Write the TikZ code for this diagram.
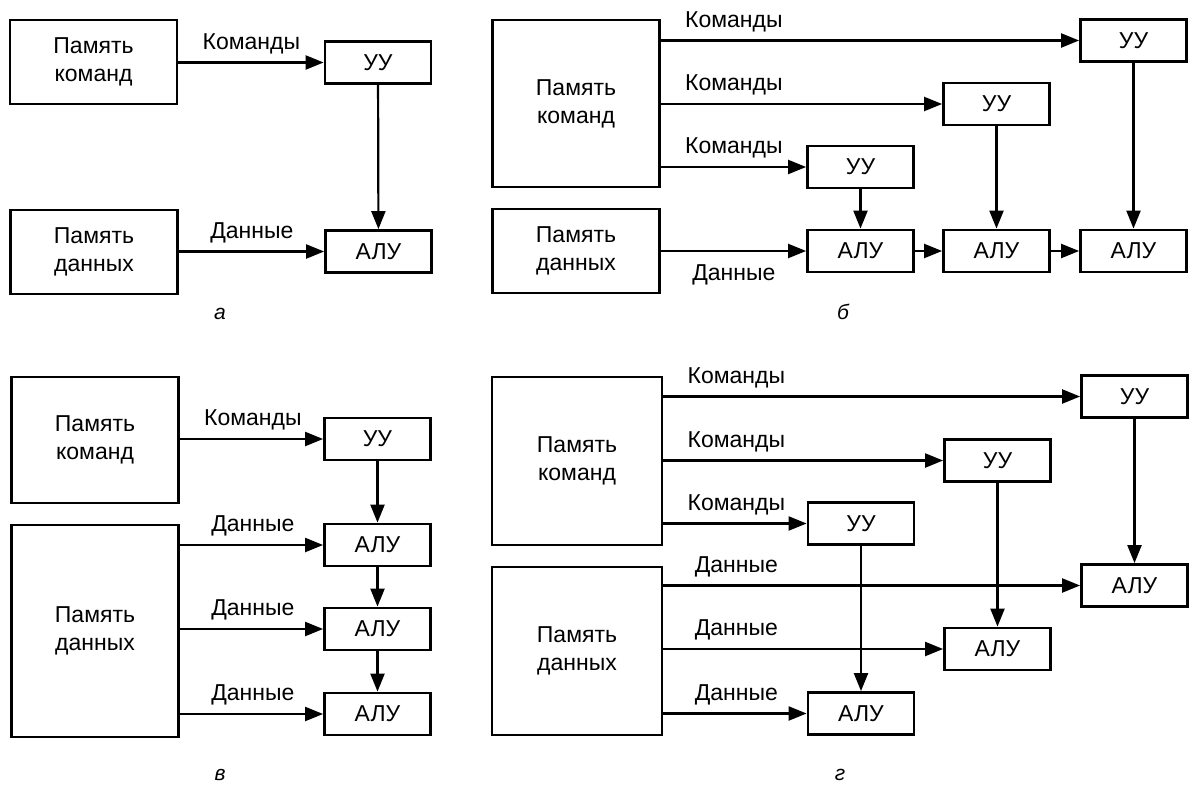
\documentclass[tikz,border=0pt]{standalone}
\usepackage{fontspec}
\setmainfont{Liberation Sans}
\usepackage{tikz}
\usetikzlibrary{arrows.meta}

\tikzset{
    block/.style={draw, line width=2.8pt, inner sep=0pt, align=center,
        font=\fontsize{23}{28}\selectfont},
    unit/.style={block, minimum width=106pt, minimum height=42pt},
    mem/.style={block, minimum width=167pt},
    link/.style={->, line width=2.2pt},
    lbl/.style={font=\fontsize{23}{28}\selectfont, anchor=south, xshift=73pt, yshift=4pt},
    lblb/.style={font=\fontsize{23}{28}\selectfont, anchor=north, xshift=73pt, yshift=-9pt},
    tag/.style={font=\fontsize{21}{25}\selectfont\itshape}
}

\begin{document}
\begin{tikzpicture}[x=1pt, y=-1pt, >={Triangle[length=18pt, width=14pt]}]
    \useasboundingbox[fill=white] (0,0) rectangle (1192,787);

    % Panel a
    \node[mem, minimum height=84pt] (akom) at (93.5,62) {Память\\команд};
    \node[mem, minimum height=84pt] (adat) at (94,252) {Память\\данных};
    \node[unit] (auu) at (378,62.5) {УУ};
    \node[unit] (aalu) at (378.5,251.5) {АЛУ};
    % Lines
    \draw[link] (akom.east |- auu.west) -- (auu.west) node[at start, lbl] {Команды};
    \draw[link] (adat.east |- aalu.west) -- (aalu.west) node[at start, lbl] {Данные};
    \draw[link] (auu) -- (aalu);
    % Text
    \node[tag] (ta) at (220,314) {а};

    % Panel b
    \node[mem, minimum height=167pt] (bkom) at (576,103.5) {Память\\команд};
    \node[mem, minimum height=84pt] (bdat) at (576,251) {Память\\данных};
    \node[unit] (buu1) at (860.5,167) {УУ};
    \node[unit] (buu2) at (996.5,104) {УУ};
    \node[unit] (buu3) at (1133.5,40.5) {УУ};
    \node[unit] (balu1) at (860.5,251) {АЛУ};
    \node[unit] (balu2) at (996.5,251) {АЛУ};
    \node[unit] (balu3) at (1133.5,251) {АЛУ};
    % Lines
    \draw[link] (bkom.east |- buu3.west) -- (buu3.west) node[at start, lbl] {Команды};
    \draw[link] (bkom.east |- buu2.west) -- (buu2.west) node[at start, lbl] {Команды};
    \draw[link] (bkom.east |- buu1.west) -- (buu1.west) node[at start, lbl] {Команды};
    \draw[link] (bdat.east |- balu1.west) -- (balu1.west) node[at start, lblb] {Данные};
    \draw[link] (buu1) -- (balu1);
    \draw[link] (buu2) -- (balu2);
    \draw[link] (buu3) -- (balu3);
    \draw[link] (balu1) -- (balu2);
    \draw[link] (balu2) -- (balu3);
    % Text
    \node[tag] (tb) at (843,312) {б};

    % Panel v
    \node[mem, minimum height=126pt] (vkom) at (95,440) {Память\\команд};
    \node[mem, minimum height=212pt] (vdat) at (95,631) {Память\\данных};
    \node[unit] (vuu) at (377.5,439) {УУ};
    \node[unit] (valu1) at (377.5,545) {АЛУ};
    \node[unit] (valu2) at (377.5,629) {АЛУ};
    \node[unit] (valu3) at (377.5,714) {АЛУ};
    % Lines
    \draw[link] (vkom.east |- vuu.west) -- (vuu.west) node[at start, lbl] {Команды};
    \draw[link] (vdat.east |- valu1.west) -- (valu1.west) node[at start, lbl] {Данные};
    \draw[link] (vdat.east |- valu2.west) -- (valu2.west) node[at start, lbl] {Данные};
    \draw[link] (vdat.east |- valu3.west) -- (valu3.west) node[at start, lbl] {Данные};
    \draw[link] (vuu) -- (valu1);
    \draw[link] (valu1) -- (valu2);
    \draw[link] (valu2) -- (valu3);
    % Text
    \node[tag] (tv) at (220,775) {в};

    % Panel g
    \node[mem, minimum width=170pt, minimum height=168pt] (gkom) at (577,461) {Память\\команд};
    \node[mem, minimum width=170pt, minimum height=168pt] (gdat) at (577,651) {Память\\данных};
    \node[unit] (guu1) at (861,523.5) {УУ};
    \node[unit] (guu2) at (997.5,460.5) {УУ};
    \node[unit] (guu3) at (1134.5,396.5) {УУ};
    \node[unit] (galu1) at (861,713.5) {АЛУ};
    \node[unit] (galu2) at (997.5,649) {АЛУ};
    \node[unit] (galu3) at (1134.5,585.5) {АЛУ};
    % Lines
    \draw[link] (gkom.east |- guu3.west) -- (guu3.west) node[at start, lbl] {Команды};
    \draw[link] (gkom.east |- guu2.west) -- (guu2.west) node[at start, lbl] {Команды};
    \draw[link] (gkom.east |- guu1.west) -- (guu1.west) node[at start, lbl] {Команды};
    \draw[link] (gdat.east |- galu3.west) -- (galu3.west) node[at start, lbl] {Данные};
    \draw[link] (gdat.east |- galu2.west) -- (galu2.west) node[at start, lbl] {Данные};
    \draw[link] (gdat.east |- galu1.west) -- (galu1.west) node[at start, lbl] {Данные};
    \draw[link] (guu1) -- (galu1);
    \draw[link] (guu2) -- (galu2);
    \draw[link] (guu3) -- (galu3);
    % Text
    \node[tag] (tg) at (840,775) {г};
\end{tikzpicture}
\end{document}
